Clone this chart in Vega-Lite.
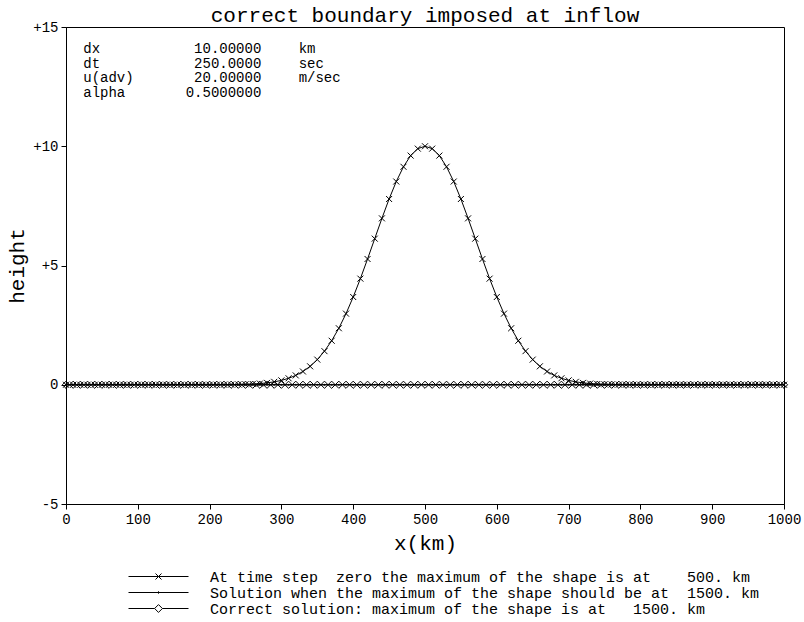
{
  "$schema": "https://vega.github.io/schema/vega-lite/v6.json",
  "width": 718,
  "height": 477,
  "autosize": {"type": "none"},
  "padding": {"left": 66, "top": 27, "right": 20, "bottom": 118},
  "background": "white",
  "title": {"text": "correct boundary imposed at inflow", "font": "Liberation Mono", "fontSize": 21, "fontWeight": "normal", "color": "black", "anchor": "middle", "offset": -6},
  "config": {
    "view": {"stroke": "black", "strokeWidth": 1},
    "axis": {"grid": false, "domainColor": "black", "tickColor": "black", "labelColor": "black", "titleColor": "black", "labelFont": "Liberation Mono", "titleFont": "Liberation Mono", "labelFontSize": 14, "titleFontSize": 21, "titleFontWeight": "normal", "tickSize": 5, "domainWidth": 1, "tickWidth": 1}
  },
  "datasets": {
    "profile": [
      {"x":0,"a":0,"b":0,"c":0},{"x":10,"a":0,"b":0,"c":0},{"x":20,"a":0,"b":0,"c":0},{"x":30,"a":0,"b":0,"c":0},{"x":40,"a":0,"b":0,"c":0},
      {"x":50,"a":0,"b":0,"c":0},{"x":60,"a":0,"b":0,"c":0},{"x":70,"a":0,"b":0,"c":0},{"x":80,"a":0,"b":0,"c":0},{"x":90,"a":0,"b":0,"c":0},
      {"x":100,"a":0,"b":0,"c":0},{"x":110,"a":0,"b":0,"c":0},{"x":120,"a":0,"b":0,"c":0},{"x":130,"a":0,"b":0,"c":0},{"x":140,"a":0,"b":0,"c":0},
      {"x":150,"a":0,"b":0,"c":0},{"x":160,"a":0,"b":0,"c":0},{"x":170,"a":0,"b":0,"c":0},{"x":180,"a":0,"b":0,"c":0},{"x":190,"a":0,"b":0,"c":0},
      {"x":200,"a":0,"b":0,"c":0},{"x":210,"a":0.002,"b":0,"c":0},{"x":220,"a":0.004,"b":0,"c":0},{"x":230,"a":0.007,"b":0,"c":0},{"x":240,"a":0.012,"b":0,"c":0},
      {"x":250,"a":0.019,"b":0,"c":0},{"x":260,"a":0.032,"b":0,"c":0},{"x":270,"a":0.05,"b":0,"c":0},{"x":280,"a":0.079,"b":0,"c":0},{"x":290,"a":0.122,"b":0,"c":0},
      {"x":300,"a":0.183,"b":0,"c":0},{"x":310,"a":0.271,"b":0,"c":0},{"x":320,"a":0.392,"b":0,"c":0},{"x":330,"a":0.556,"b":0,"c":0},{"x":340,"a":0.773,"b":0,"c":0},
      {"x":350,"a":1.054,"b":0,"c":0},{"x":360,"a":1.409,"b":0,"c":0},{"x":370,"a":1.845,"b":0,"c":0},{"x":380,"a":2.369,"b":0,"c":0},{"x":390,"a":2.982,"b":0,"c":0},
      {"x":400,"a":3.679,"b":0,"c":0},{"x":410,"a":4.449,"b":0,"c":0},{"x":420,"a":5.273,"b":0,"c":0},{"x":430,"a":6.126,"b":0,"c":0},{"x":440,"a":6.977,"b":0,"c":0},
      {"x":450,"a":7.788,"b":0,"c":0},{"x":460,"a":8.521,"b":0,"c":0},{"x":470,"a":9.139,"b":0,"c":0},{"x":480,"a":9.608,"b":0,"c":0},{"x":490,"a":9.9,"b":0,"c":0},
      {"x":500,"a":10,"b":0,"c":0},
      {"x":510,"a":9.9,"b":0,"c":0},{"x":520,"a":9.608,"b":0,"c":0},{"x":530,"a":9.139,"b":0,"c":0},{"x":540,"a":8.521,"b":0,"c":0},{"x":550,"a":7.788,"b":0,"c":0},
      {"x":560,"a":6.977,"b":0,"c":0},{"x":570,"a":6.126,"b":0,"c":0},{"x":580,"a":5.273,"b":0,"c":0},{"x":590,"a":4.449,"b":0,"c":0},{"x":600,"a":3.679,"b":0,"c":0},
      {"x":610,"a":2.982,"b":0,"c":0},{"x":620,"a":2.369,"b":0,"c":0},{"x":630,"a":1.845,"b":0,"c":0},{"x":640,"a":1.409,"b":0,"c":0},{"x":650,"a":1.054,"b":0,"c":0},
      {"x":660,"a":0.773,"b":0,"c":0},{"x":670,"a":0.556,"b":0,"c":0},{"x":680,"a":0.392,"b":0,"c":0},{"x":690,"a":0.271,"b":0,"c":0},{"x":700,"a":0.183,"b":0,"c":0},
      {"x":710,"a":0.122,"b":0,"c":0},{"x":720,"a":0.079,"b":0,"c":0},{"x":730,"a":0.05,"b":0,"c":0},{"x":740,"a":0.032,"b":0,"c":0},{"x":750,"a":0.019,"b":0,"c":0},
      {"x":760,"a":0.012,"b":0,"c":0},{"x":770,"a":0.007,"b":0,"c":0},{"x":780,"a":0.004,"b":0,"c":0},{"x":790,"a":0.002,"b":0,"c":0},{"x":800,"a":0,"b":0,"c":0},
      {"x":810,"a":0,"b":0,"c":0},{"x":820,"a":0,"b":0,"c":0},{"x":830,"a":0,"b":0,"c":0},{"x":840,"a":0,"b":0,"c":0},{"x":850,"a":0,"b":0,"c":0},
      {"x":860,"a":0,"b":0,"c":0},{"x":870,"a":0,"b":0,"c":0},{"x":880,"a":0,"b":0,"c":0},{"x":890,"a":0,"b":0,"c":0},{"x":900,"a":0,"b":0,"c":0},
      {"x":910,"a":0,"b":0,"c":0},{"x":920,"a":0,"b":0,"c":0},{"x":930,"a":0,"b":0,"c":0},{"x":940,"a":0,"b":0,"c":0},{"x":950,"a":0,"b":0,"c":0},
      {"x":960,"a":0,"b":0,"c":0},{"x":970,"a":0,"b":0,"c":0},{"x":980,"a":0,"b":0,"c":0},{"x":990,"a":0,"b":0,"c":0},{"x":1000,"a":0,"b":0,"c":0}
    ],
    "params": [
      {"param": "dx", "val": "10.00000", "unit": "km"},
      {"param": "dt", "val": "250.0000", "unit": "sec"},
      {"param": "u(adv)", "val": "20.00000", "unit": "m/sec"},
      {"param": "alpha", "val": "0.5000000", "unit": ""}
    ]
  },
  "resolve": {"scale": {"y": "independent"}},
  "layer": [
    {
      "resolve": {"scale": {"shape": "independent"}},
      "layer": [
        {
          "data": {"name": "profile"},
          "transform": [{"fold": ["a", "b", "c"], "as": ["series", "height"]}],
          "mark": {"type": "line", "color": "black", "strokeWidth": 1},
          "encoding": {
            "x": {"field": "x", "type": "quantitative", "scale": {"domain": [0, 1000], "nice": false}, "axis": {"values": [0,100,200,300,400,500,600,700,800,900,1000], "format": "d", "title": "x(km)", "labelPadding": 3, "titlePadding": 6, "labelFlush": false}},
            "y": {"field": "height", "type": "quantitative", "scale": {"domain": [-5, 15], "nice": false, "zero": false}, "axis": {"values": [-5, 0, 5, 10, 15], "title": "height", "labelExpr": "datum.value > 0 ? '+' + datum.value : '' + datum.value", "labelPadding": 3, "titlePadding": 5}},
            "detail": {"field": "series", "type": "nominal"}
          }
        },
        {
          "data": {"name": "profile"},
          "transform": [{"fold": ["a", "b", "c"], "as": ["series", "height"]}],
          "mark": {"type": "point", "filled": false, "color": "black", "strokeWidth": 1, "size": 36, "opacity": 1},
          "encoding": {
            "x": {"field": "x", "type": "quantitative"},
            "y": {"field": "height", "type": "quantitative"},
            "shape": {"field": "series", "type": "nominal", "scale": {"domain": ["a", "b", "c"], "range": ["M-1,-1L1,1M-1,1L1,-1", "M-0.3,0L0.3,0M0,-0.3L0,0.3", "M-1.2,0L0,-1.2L1.2,0L0,1.2Z"]}, "legend": null}
          }
        },
        {
          "data": {"values": []},
          "mark": {"type": "point", "filled": false, "color": "black", "strokeWidth": 1, "opacity": 1},
          "encoding": {
            "shape": {"field": "label", "type": "nominal",
              "scale": {"domain": ["At time step \u00a0zero the maximum of the shape is at \u00a0\u00a0\u00a0500. km", "Solution when the maximum of the shape should be at \u00a01500. km", "Correct solution: maximum of the shape is at \u00a0\u00a01500. km"],
                        "range": ["M-5,0L5,0M-0.5,-0.5L0.5,0.5M-0.5,0.5L0.5,-0.5", "M-5,0L5,0M0,-0.2L0,0.2", "M-5,0L-0.65,0M0.65,0L5,0M-0.65,0L0,-0.65L0.65,0L0,0.65Z"]},
              "legend": {"orient": "none", "legendX": 85, "legendY": 542, "title": null, "symbolSize": 144, "symbolStrokeWidth": 1, "symbolStrokeColor": "black", "symbolFillColor": "transparent", "labelFont": "Liberation Mono", "labelFontSize": 15, "labelColor": "black", "labelOffset": 44, "rowPadding": 0, "padding": 0, "labelLimit": 0}
            }
          }
        }
      ]
    },
    {
      "data": {"name": "params"},
      "layer": [
        {
          "mark": {"type": "text", "align": "left", "baseline": "middle", "font": "Liberation Mono", "fontSize": 14, "color": "black"},
          "encoding": {
            "x": {"datum": 24, "type": "quantitative"},
            "y": {"field": "param", "type": "ordinal", "sort": null, "scale": {"type": "point", "range": [22, 65.5], "padding": 0}, "axis": null},
            "text": {"field": "param"}
          }
        },
        {
          "mark": {"type": "text", "align": "right", "baseline": "middle", "font": "Liberation Mono", "fontSize": 14, "color": "black"},
          "encoding": {
            "x": {"datum": 272, "type": "quantitative"},
            "y": {"field": "param", "type": "ordinal", "sort": null},
            "text": {"field": "val"}
          }
        },
        {
          "mark": {"type": "text", "align": "left", "baseline": "middle", "font": "Liberation Mono", "fontSize": 14, "color": "black"},
          "encoding": {
            "x": {"datum": 324, "type": "quantitative"},
            "y": {"field": "param", "type": "ordinal", "sort": null},
            "text": {"field": "unit"}
          }
        }
      ]
    }
  ]
}
